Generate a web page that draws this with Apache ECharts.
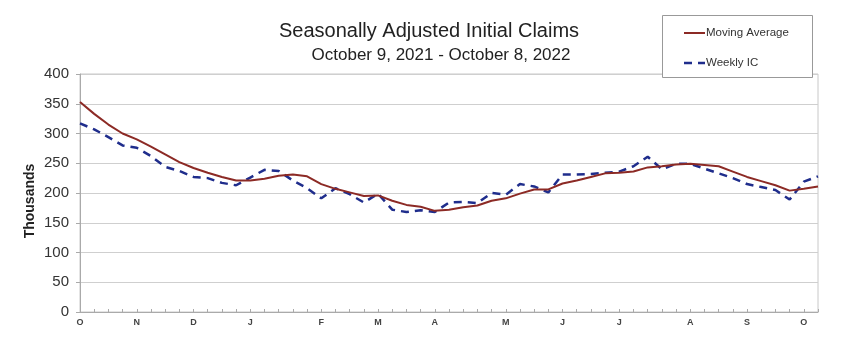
<!DOCTYPE html>
<html>
<head>
<meta charset="utf-8">
<script src="https://cdn.jsdelivr.net/npm/echarts@6/dist/echarts.min.js"></script>
<style>
html,body{margin:0;padding:0;background:#fff;}
#chart{width:843px;height:340px;}
</style>
</head>
<body>
<div id="chart"></div>
<script>
// Week ending dates (categories)
const weeks = [
  '2021-10-09','2021-10-16','2021-10-23','2021-10-30',
  '2021-11-06','2021-11-13','2021-11-20','2021-11-27',
  '2021-12-04','2021-12-11','2021-12-18','2021-12-25',
  '2022-01-01','2022-01-08','2022-01-15','2022-01-22','2022-01-29',
  '2022-02-05','2022-02-12','2022-02-19','2022-02-26',
  '2022-03-05','2022-03-12','2022-03-19','2022-03-26',
  '2022-04-02','2022-04-09','2022-04-16','2022-04-23','2022-04-30',
  '2022-05-07','2022-05-14','2022-05-21','2022-05-28',
  '2022-06-04','2022-06-11','2022-06-18','2022-06-25',
  '2022-07-02','2022-07-09','2022-07-16','2022-07-23','2022-07-30',
  '2022-08-06','2022-08-13','2022-08-20','2022-08-27',
  '2022-09-03','2022-09-10','2022-09-17','2022-09-24',
  '2022-10-01','2022-10-08'
];
// Tick labels (month initials at first week of each month)
const tickLabels = [
  'O','','','',
  'N','','','',
  'D','','','',
  'J','','','','',
  'F','','','',
  'M','','','',
  'A','','','','',
  'M','','','',
  'J','','','',
  'J','','','','',
  'A','','','',
  'S','','','',
  'O',''
];
// Moving average (thousands)
const movingAverage = [
  353,333,315,300,
  290,278,265,252,
  242,234,227,221,
  221,224,229,231,228,
  215,207,201,195,
  196,187,180,177,
  170,172,176,179,187,
  191,199,206,206,
  216,221,227,233,
  234,236,243,245,248,
  249,247,245,236,
  227,220,213,204,
  207,211
];
// Weekly initial claims (thousands)
const weeklyIC = [
  317,307,294,280,
  276,262,244,237,
  227,225,217,213,
  226,239,237,221,208,
  191,208,198,184,
  199,172,168,171,
  168,184,185,183,200,
  197,215,211,201,
  231,231,232,234,
  236,245,261,240,249,
  249,241,233,225,
  215,210,205,189,
  219,228
];
const yTicks = [0,50,100,150,200,250,300,350,400];

const FONT = '"Liberation Sans", Arial, sans-serif';
const chart = echarts.init(document.getElementById('chart'), null, {renderer:'canvas'});
chart.setOption({
  animation:false,
  backgroundColor:'#fff',
  title:[
    {text:'Seasonally Adjusted Initial Claims', left:424, top:16, textAlign:'center',
     textStyle:{fontFamily:FONT, fontSize:20, fontWeight:'normal', color:'#222'}},
    {text:'October 9, 2021 - October 8, 2022', left:436, top:42, textAlign:'center',
     textStyle:{fontFamily:FONT, fontSize:17, fontWeight:'normal', color:'#222'}}
  ],
  grid:{left:80, right:25, top:74, bottom:28, show:true, borderColor:'#c8c8c8', borderWidth:1},
  xAxis:{
    type:'category', data:weeks, boundaryGap:false,
    axisLine:{lineStyle:{color:'#aaa'}},
    axisTick:{interval:0, inside:true, length:3, lineStyle:{color:'#aaa'}},
    axisLabel:{interval:0, margin:6, fontFamily:FONT, fontSize:9, fontWeight:'bold', color:'#444',
      formatter:(v, i)=>tickLabels[i]}
  },
  yAxis:{
    type:'value', min:yTicks[0], max:yTicks[yTicks.length-1], interval:50,
    axisLine:{show:true, lineStyle:{color:'#aaa'}},
    axisTick:{show:true, length:4, lineStyle:{color:'#aaa'}},
    axisLabel:{margin:11, fontFamily:FONT, fontSize:15, color:'#333'},
    splitLine:{lineStyle:{color:'#cfcfcf'}}
  },
  series:[
    {name:'Moving Average', type:'line', data:movingAverage, showSymbol:false, symbol:'none',
     lineStyle:{color:'#8c2a25', width:2}, z:3},
    {name:'Weekly IC', type:'line', data:weeklyIC, showSymbol:false, symbol:'none',
     lineStyle:{color:'#1f2d8c', width:2.5, type:[8,6]}, z:2}
  ],
  graphic:[
    {type:'text', x:30, y:201, rotation:Math.PI/2,
     style:{text:'Thousands', font:'bold 14px "Liberation Sans", Arial, sans-serif', fill:'#222', textAlign:'center', textVerticalAlign:'middle'}},
    {type:'rect', shape:{x:662.5, y:15.5, width:150, height:62}, style:{fill:'#fff', stroke:'#999', lineWidth:1}, z:10},
    {type:'line', shape:{x1:684, y1:33, x2:705, y2:33}, style:{stroke:'#8c2a25', lineWidth:2}, z:11},
    {type:'text', x:706, y:33, style:{text:'Moving Average', font:'11.5px "Liberation Sans", Arial, sans-serif', fill:'#333', textVerticalAlign:'middle'}, z:11},
    {type:'line', shape:{x1:684, y1:63, x2:705, y2:63}, style:{stroke:'#1f2d8c', lineWidth:2.5, lineDash:[8,6]}, z:11},
    {type:'text', x:706, y:63, style:{text:'Weekly IC', font:'11.5px "Liberation Sans", Arial, sans-serif', fill:'#333', textVerticalAlign:'middle'}, z:11}
  ]
});
</script>
</body>
</html>
